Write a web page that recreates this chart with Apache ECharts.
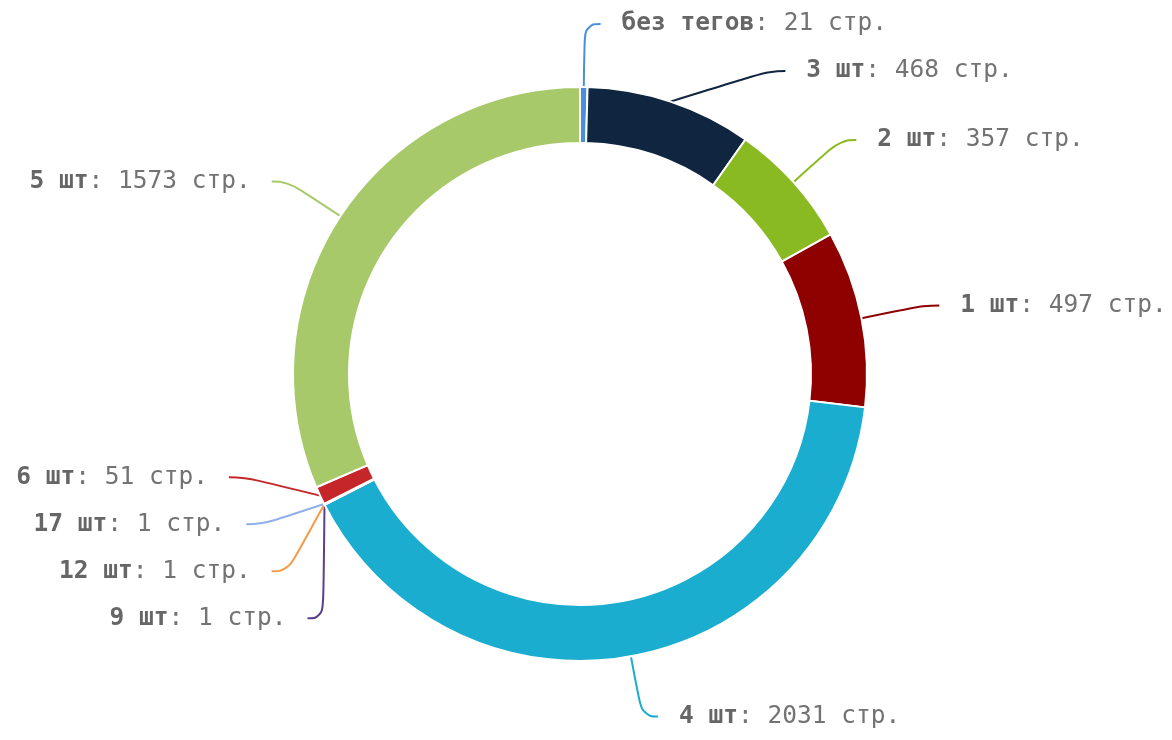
<!DOCTYPE html>
<html>
<head>
<meta charset="utf-8">
<script src="https://cdn.jsdelivr.net/npm/echarts@6/dist/echarts.min.js"></script>
<style>
  html, body { margin: 0; padding: 0; background: #fff; }
  #chart { width: 1172px; height: 740px; }
</style>
</head>
<body>
<div id="chart"></div>
<script>
// теги на странице -> число страниц
const names = ['без тегов', '3 шт', '2 шт', '1 шт', '4 шт', '9 шт', '12 шт', '17 шт', '6 шт', '5 шт'];
const pages = [21, 468, 357, 497, 2031, 1, 1, 1, 51, 1573];
const colors = ['#4a8fdb', '#0f2540', '#8aba22', '#8f0000', '#1badcf', '#5b3f8f', '#f59a45', '#8fb0e8', '#c4262a', '#a7c96a'];

const CX = 580, CY = 374;
const R_IN = 231, R_OUT = 287;
const LEN = 63, LEN2 = 16, GAP = 21;
const LINE_H = 45;

const chart = echarts.init(document.getElementById('chart'));

// сдвинутые подписи раскладываем по окружности r + len + len2, как в старом echarts
function placeLabel(params) {
    const pts = params.labelLinePoints;
    if (!pts) return;
    const rect = params.labelRect;
    let y = rect.y + rect.height / 2;
    // кучка мелких секторов слева внизу — центрируем вокруг сектора
    if (params.dataIndex >= 5 && params.dataIndex <= 8) y -= LINE_H;
    const p0 = pts[0];
    const dir = p0[0] < CX ? -1 : 1;
    const k = (R_OUT + LEN) / R_OUT;
    const naturalY = CY + (p0[1] - CY) * k;
    const dy = Math.abs(y - CY);
    let xEnd;
    if (Math.abs(y - naturalY) > 3 && dy < R_OUT + LEN) {
        const R = R_OUT + LEN + LEN2;
        xEnd = CX + dir * Math.sqrt(R * R - dy * dy);
    } else {
        xEnd = CX + (p0[0] - CX) * k + dir * LEN2;
    }
    return {
        x: xEnd + dir * GAP,
        y: y,
        labelLinePoints: [p0, [xEnd - dir * LEN2, y], [xEnd, y]]
    };
}

const option = {
    animation: false,
    color: colors,
    series: [
        {
            type: 'pie',
            center: [CX, CY],
            radius: [R_IN, R_OUT],
            startAngle: 90,
            itemStyle: {
                borderColor: '#fff',
                borderWidth: 2
            },
            label: {
                fontFamily: 'DejaVu Sans Mono',
                fontSize: 24.5,
                lineHeight: LINE_H,
                color: '#737373',
                distanceToLabelLine: GAP,
                formatter: '{b|{b}}: {c} стр.',
                rich: {
                    b: {
                        fontFamily: 'DejaVu Sans Mono',
                        fontSize: 24.5,
                        lineHeight: LINE_H,
                        fontWeight: 'bold',
                        color: '#666'
                    }
                }
            },
            labelLine: {
                smooth: 0.5,
                length: LEN,
                length2: LEN2,
                lineStyle: { width: 2 }
            },
            labelLayout: placeLabel,
            data: names.map((n, i) => ({ name: n, value: pages[i] }))
        }
    ]
};
chart.setOption(option);
</script>
</body>
</html>
